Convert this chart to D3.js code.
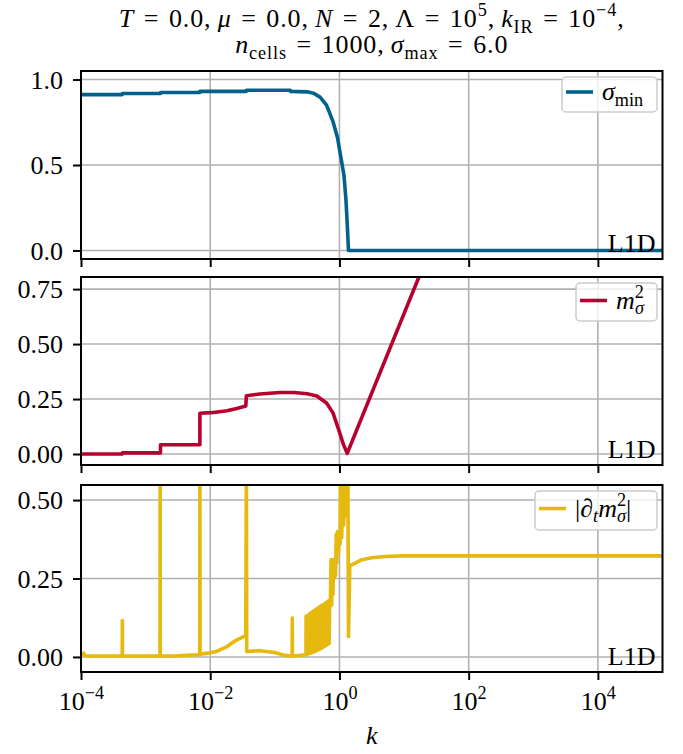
<!DOCTYPE html>
<html>
<head>
<meta charset="utf-8">
<script src="https://cdn.jsdelivr.net/npm/d3@7"></script>
<style>
  body { margin: 0; background: #fff; }
  text { font-family: 'Liberation Serif', 'DejaVu Serif', serif; fill: #000; }
</style>
</head>
<body>
<svg id="chart" width="683" height="754"></svg>
<script>
// ---- data (k given as log10 k) ----
const kTicks = [1e-4, 1e-2, 1e0, 1e2, 1e4];

const sigmaTicks = [0.0, 0.5, 1.0];
const massTicks = [0.0, 0.25, 0.5, 0.75];
const flowTicks = [0.0, 0.25, 0.5];

const sigmaLogK = [-4, -3.36, -3.36, -2.77, -2.77, -2.16, -2.16, -1.44, -1.44, -0.76, -0.76, -0.5, -0.4, -0.3, -0.2, -0.1, -0.03, 0.02, 0.07, 0.1, 0.12, 0.14, 5];
const sigmaMin  = [0.912, 0.912, 0.918, 0.918, 0.924, 0.924, 0.931, 0.931, 0.937, 0.937, 0.931, 0.928, 0.92, 0.897, 0.85, 0.755, 0.66, 0.55, 0.44, 0.3, 0.16, 0.0, 0.0];

const massLogK = [-4, -3.36, -3.36, -2.77, -2.77, -2.16, -2.16, -1.98, -1.74, -1.59, -1.45, -1.44, -1.23, -0.92, -0.7, -0.5, -0.35, -0.2, -0.1, 0.0, 0.06, 0.12, 1.23, 1.4];
const massSq   = [0.0, 0.0, 0.005, 0.005, 0.042, 0.042, 0.185, 0.188, 0.197, 0.207, 0.218, 0.265, 0.273, 0.28, 0.28, 0.274, 0.264, 0.232, 0.187, 0.1, 0.045, 0.003, 0.805, 0.93];

const flowLogK = [
  -4, -3.96, -3.93, -3.362, -3.36, -3.358, -2.777, -2.775, -2.773, -2.5, -2.2, -2.162, -2.16, -2.158,
  -2.0, -1.9, -1.74, -1.6, -1.45, -1.44, -1.435, -1.38, -1.23, -1.0, -0.85, -0.732, -0.73, -0.728,
  -0.6, -0.518, -0.516, -0.514,
  -0.483, -0.47, -0.458, -0.445, -0.433, -0.42, -0.408, -0.395, -0.383, -0.37, -0.358, -0.345,
  -0.333, -0.32, -0.308, -0.295, -0.283, -0.27, -0.258, -0.245, -0.233, -0.22, -0.208, -0.195,
  -0.183, -0.17, -0.16,
  -0.15, -0.14, -0.13, -0.12, -0.11, -0.1, -0.09, -0.08, -0.07, -0.06, -0.05, -0.04, -0.03, -0.015,
  0.0, 0.01, 0.02, 0.035, 0.05, 0.065, 0.08, 0.095, 0.11, 0.12, 0.13, 0.14, 0.16,
  0.25, 0.35, 0.5, 0.7, 1.0, 5
];
const flowAbs = [
  0.003, 0.012, 0.003, 0.003, 0.116, 0.003, 0.003, 0.62, 0.003, 0.004, 0.007, 0.008, 0.62, 0.009,
  0.013, 0.018, 0.033, 0.053, 0.068, 0.62, 0.017, 0.018, 0.02, 0.014, 0.005, 0.003, 0.124, 0.003,
  0.005, 0.007, 0.13, 0.008,
  0.01, 0.137, 0.011, 0.14, 0.013, 0.144, 0.015, 0.147, 0.017, 0.151, 0.019, 0.154,
  0.022, 0.158, 0.024, 0.161, 0.027, 0.165, 0.03, 0.168, 0.033, 0.172, 0.036, 0.175,
  0.04, 0.179, 0.043,
  0.18, 0.165, 0.31, 0.165, 0.3, 0.2, 0.31, 0.25, 0.28, 0.26, 0.39, 0.3, 0.4, 0.33,
  0.39, 0.36, 0.62, 0.38, 0.62, 0.42, 0.62, 0.45, 0.62, 0.5, 0.62, 0.065, 0.29,
  0.3, 0.31, 0.316, 0.32, 0.322, 0.322
];

// ---- layout ----
const svg = d3.select('#chart');
const left = 81, right = 662.5;
const width = right - left;

const x = d3.scaleLog().domain([1e-4, 1e5]).range([left, right]);

const panels = [
  { top: 71, bottom: 259, domain: [-0.05, 1.05], ticks: sigmaTicks, fmt: d3.format('.1f'),
    logk: sigmaLogK, vals: sigmaMin, color: '#00628b',
    legend: { w: 95, h: 35, ly: 15, label: [['σ', 1], ['min', 0, 'sub']] } },
  { top: 277, bottom: 465, domain: [-0.05, 0.805], ticks: massTicks, fmt: d3.format('.2f'),
    logk: massLogK, vals: massSq, color: '#b8002f',
    legend: { w: 81, h: 38, ly: 17.5, label: [['m', 1], ['2', 0, 'sup'], ['σ', 1, 'sub', -9]] } },
  { top: 485, bottom: 672, domain: [-0.048, 0.548], ticks: flowTicks, fmt: d3.format('.2f'),
    logk: flowLogK, vals: flowAbs, color: '#e5b90d',
    legend: { w: 122, h: 39, ly: 17.5, label: [['|∂', 0], ['t', 1, 'sub'], ['m', 1], ['2', 0, 'sup'], ['σ', 1, 'sub', -9], ['|', 0]] } }
];

function mathText(parent, xp, yp, size, anchor, parts) {
  const t = parent.append('text')
    .attr('x', xp).attr('y', yp)
    .attr('text-anchor', anchor)
    .style('font-size', size + 'px')
    .style('white-space', 'pre');
  let off = 0;
  parts.forEach(p => {
    const s = p[0], it = p[1], pos = p[2], dx = p[3] || 0;
    const target = pos === 'sup' ? -0.42 * size : pos === 'sub' ? 0.22 * size : 0;
    t.append('tspan')
      .attr('dy', target - off)
      .attr('dx', dx)
      .style('font-size', (pos ? 0.7 * size : size) + 'px')
      .style('font-style', it ? 'italic' : 'normal')
      .text(s);
    off = target;
  });
  return t;
}

const fs = 26;

panels.forEach((p, i) => {
  const y = d3.scaleLinear().domain(p.domain).range([p.bottom, p.top]);
  const g = svg.append('g');

  const clipId = 'clip' + i;
  svg.append('clipPath').attr('id', clipId)
    .append('rect').attr('x', left).attr('y', p.top).attr('width', width).attr('height', p.bottom - p.top);

  // grid
  g.append('g').selectAll('line.gx').data(kTicks).join('line')
    .attr('x1', d => x(d)).attr('x2', d => x(d))
    .attr('y1', p.top).attr('y2', p.bottom)
    .attr('stroke', '#b0b0b0').attr('stroke-width', 1.6);
  g.append('g').selectAll('line.gy').data(p.ticks).join('line')
    .attr('x1', left).attr('x2', right)
    .attr('y1', d => y(d)).attr('y2', d => y(d))
    .attr('stroke', '#b0b0b0').attr('stroke-width', 1.6);

  // data line
  const pts = p.logk.map((e, j) => [10 ** e, p.vals[j]]);
  g.append('path')
    .datum(pts)
    .attr('clip-path', `url(#${clipId})`)
    .attr('fill', 'none')
    .attr('stroke', p.color)
    .attr('stroke-width', 3.6)
    .attr('stroke-linejoin', 'round')
    .attr('d', d3.line().x(d => x(d[0])).y(d => y(d[1])));

  // frame
  g.append('rect')
    .attr('x', left).attr('y', p.top)
    .attr('width', width).attr('height', p.bottom - p.top)
    .attr('fill', 'none').attr('stroke', '#000').attr('stroke-width', 2);

  // y axis
  const yAxis = d3.axisLeft(y).tickValues(p.ticks).tickFormat(p.fmt)
    .tickSize(8).tickPadding(10).tickSizeOuter(0);
  const ya = g.append('g').attr('transform', `translate(${left},0)`).call(yAxis);
  ya.select('.domain').remove();
  ya.selectAll('.tick line').attr('stroke', '#000').attr('stroke-width', 2);
  ya.selectAll('.tick text').style('font-size', fs + 'px')
    .style('font-family', "'Liberation Serif', serif").attr('dy', '0.33em');

  // x axis ticks
  const xAxis = d3.axisBottom(x).tickValues(kTicks).tickFormat(() => '')
    .tickSize(8).tickSizeOuter(0);
  const xa = g.append('g').attr('transform', `translate(0,${p.bottom})`).call(xAxis);
  xa.select('.domain').remove();
  xa.selectAll('.tick line').attr('stroke', '#000').attr('stroke-width', 2);
  if (i === panels.length - 1) {
    xa.selectAll('.tick').each(function (d) {
      const e = Math.round(Math.log10(d));
      mathText(d3.select(this), 0, 38, fs, 'middle', [['10', 0], [e < 0 ? '−' + (-e) : String(e), 0, 'sup']]);
    });
  }

  // legend
  const L = p.legend;
  const bx = right - 5.5 - L.w, by = p.top + 6;
  const lg = g.append('g');
  lg.append('rect')
    .attr('x', bx).attr('y', by).attr('width', L.w).attr('height', L.h)
    .attr('rx', 4).attr('fill', '#fff').attr('fill-opacity', 0.8)
    .attr('stroke', '#cccccc').attr('stroke-width', 1.5);
  lg.append('line')
    .attr('x1', bx + 4).attr('x2', bx + 31)
    .attr('y1', by + L.ly).attr('y2', by + L.ly)
    .attr('stroke', p.color).attr('stroke-width', 3.6);
  mathText(lg, bx + 40, by + L.ly + 8, fs, 'start', L.label);

  // L1D tag
  g.append('text')
    .attr('x', right - 7).attr('y', p.bottom - 7)
    .attr('text-anchor', 'end')
    .style('font-size', fs + 'px')
    .text('L1D');
});

// title (math-like spacing around "=")
const cx = (left + right) / 2;
const eq = '\u2004=\u2004';
mathText(svg, cx, 27, fs, 'middle', [
  ['T', 1], [eq + '0.0,\u2009', 0], ['μ', 1], [eq + '0.0,\u2009', 0], ['N', 1], [eq + '2,\u2009Λ' + eq + '10', 0], ['5', 0, 'sup'],
  [',\u2009', 0], ['k', 1], ['IR', 0, 'sub'], [eq + '10', 0], ['−4', 0, 'sup'], [',', 0]
]).style('letter-spacing', '0.9px');
mathText(svg, cx, 53, fs, 'middle', [
  ['n', 1], ['cells', 0, 'sub'], [eq + '1000,\u2009', 0], ['σ', 1], ['max', 0, 'sub'], [eq + '6.0', 0]
]).style('letter-spacing', '0.9px');

// x label
svg.append('text')
  .attr('x', cx).attr('y', 744)
  .attr('text-anchor', 'middle')
  .style('font-size', fs + 'px')
  .style('font-style', 'italic')
  .text('k');
</script>
</body>
</html>
